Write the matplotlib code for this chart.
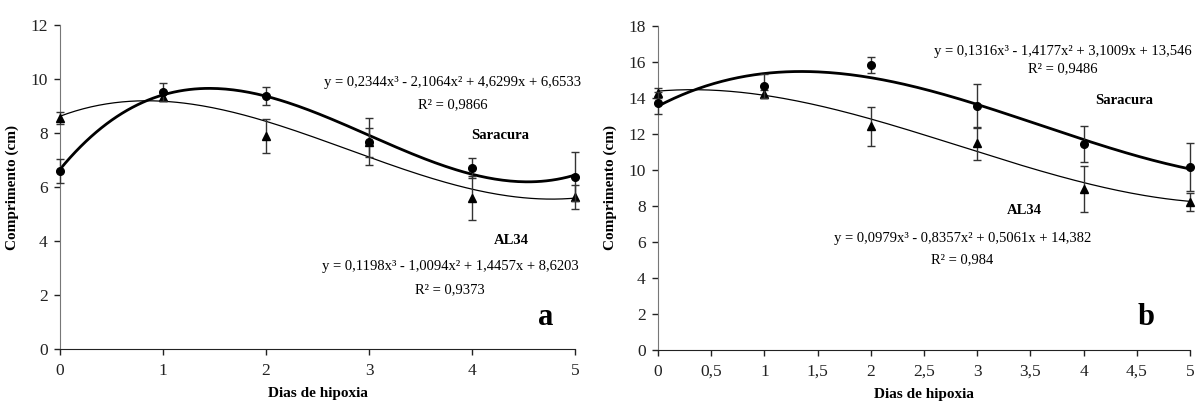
import matplotlib
matplotlib.use("Agg")
import matplotlib.pyplot as plt
import numpy as np

plt.rcParams['font.family'] = ['Liberation Serif', 'DejaVu Serif']

days = [0, 1, 2, 3, 4, 5]

# panel a
a_sar = [6.60, 9.51, 9.38, 7.68, 6.69, 6.38]
a_sar_err = [0.44, 0.33, 0.34, 0.86, 0.37, 0.90]
a_al = [8.54, 9.35, 7.90, 7.65, 5.60, 5.64]
a_al_err = [0.22, 0.17, 0.63, 0.55, 0.82, 0.45]
a_sar_coef = [0.2344, -2.1064, 4.6299, 6.6533]
a_al_coef = [0.1198, -1.0094, 1.4457, 8.6203]

# panel b
b_sar = [13.71, 14.66, 15.84, 13.55, 11.42, 10.16]
b_sar_err = [0.60, 0.65, 0.45, 1.24, 1.00, 1.35]
b_al = [14.27, 14.23, 12.42, 11.49, 8.95, 8.25]
b_al_err = [0.27, 0.22, 1.08, 0.91, 1.30, 0.50]
b_sar_coef = [0.1316, -1.4177, 3.1009, 13.546]
b_al_coef = [0.0979, -0.8357, 0.5061, 14.382]


def draw_panel(ax, sar, sar_err, al, al_err, sar_coef, al_coef):
    xs = np.linspace(0, 5, 200)
    ax.plot(xs, np.polyval(al_coef, xs), color='black', lw=0.9, zorder=2)
    ax.plot(xs, np.polyval(sar_coef, xs), color='black', lw=2.0, zorder=2)
    ax.errorbar(days, al, yerr=al_err, fmt='^', color='black', ms=5.5,
                ecolor='#333333', elinewidth=1, capsize=3, capthick=1, zorder=3,
                clip_on=False)
    ax.errorbar(days, sar, yerr=sar_err, fmt='o', color='black', ms=5.5,
                ecolor='#333333', elinewidth=1, capsize=3, capthick=1, zorder=4,
                clip_on=False)
    for s in ['top', 'right']:
        ax.spines[s].set_visible(False)
    ax.spines['left'].set_color('#777777')
    ax.spines['bottom'].set_color('#222222')
    ax.tick_params(direction='out', length=4, width=1, labelsize=12.5,
                   colors='#222222', pad=5)
    ax.tick_params(axis='x', pad=6)
    ax.set_xlim(0, 5)
    ax.set_xlabel('Dias de hipoxia', fontsize=11, fontweight='bold', labelpad=6)
    ax.set_ylabel('Comprimento (cm)', fontsize=11, fontweight='bold', labelpad=8)


def eq_text(coef):
    s = 'y = {}x³ {} {}x² {} {}x + {}'.format(
        f'{coef[0]:g}'.replace('.', ','),
        '-' if coef[1] < 0 else '+', f'{abs(coef[1]):g}'.replace('.', ','),
        '-' if coef[2] < 0 else '+', f'{abs(coef[2]):g}'.replace('.', ','),
        f'{coef[3]:g}'.replace('.', ','))
    return s


fig = plt.figure(figsize=(12.02, 4.05), dpi=100)
ax1 = fig.add_axes([60 / 1202, 56 / 405, 515 / 1202, 324 / 405])
ax2 = fig.add_axes([658 / 1202, 55 / 405, 532 / 1202, 324 / 405])

eq_fs = 10.5

# left panel
draw_panel(ax1, a_sar, a_sar_err, a_al, a_al_err, a_sar_coef, a_al_coef)
ax1.set_ylim(0, 12)
ax1.set_yticks(np.arange(0, 13, 2))
ax1.set_xticks(days)
ax1.text(3.81, 9.88, eq_text(a_sar_coef), ha='center', va='center', fontsize=eq_fs)
ax1.text(3.81, 9.04, 'R² = 0,9866', ha='center', va='center', fontsize=eq_fs)
ax1.text(4.27, 7.89, 'Saracura', ha='center', va='center', fontsize=10.5, fontweight='bold')
ax1.text(4.38, 4.01, 'AL34', ha='center', va='center', fontsize=10.5, fontweight='bold')
ax1.text(3.79, 3.05, eq_text(a_al_coef), ha='center', va='center', fontsize=eq_fs)
ax1.text(3.79, 2.21, 'R² = 0,9373', ha='center', va='center', fontsize=eq_fs)
ax1.text(4.72, 1.17, 'a', ha='center', va='center', fontsize=22, fontweight='bold')

# right panel
draw_panel(ax2, b_sar, b_sar_err, b_al, b_al_err, b_sar_coef, b_al_coef)
ax2.set_ylim(0, 18)
ax2.set_yticks(np.arange(0, 19, 2))
ax2.set_xticks(np.arange(0, 5.01, 0.5))
ax2.set_xticklabels([f'{v:g}'.replace('.', ',') for v in np.arange(0, 5.01, 0.5)])
ax2.text(3.80, 16.6, eq_text(b_sar_coef), ha='center', va='center', fontsize=eq_fs,
         clip_on=False)
ax2.text(3.80, 15.62, 'R² = 0,9486', ha='center', va='center', fontsize=eq_fs)
ax2.text(4.38, 13.86, 'Saracura', ha='center', va='center', fontsize=10.5, fontweight='bold')
ax2.text(3.44, 7.75, 'AL34', ha='center', va='center', fontsize=10.5, fontweight='bold')
ax2.text(2.86, 6.18, eq_text(b_al_coef), ha='center', va='center', fontsize=eq_fs)
ax2.text(2.86, 5.01, 'R² = 0,984', ha='center', va='center', fontsize=eq_fs)
ax2.text(4.59, 1.82, 'b', ha='center', va='center', fontsize=22, fontweight='bold')

fig.savefig('out.png', dpi=100)
